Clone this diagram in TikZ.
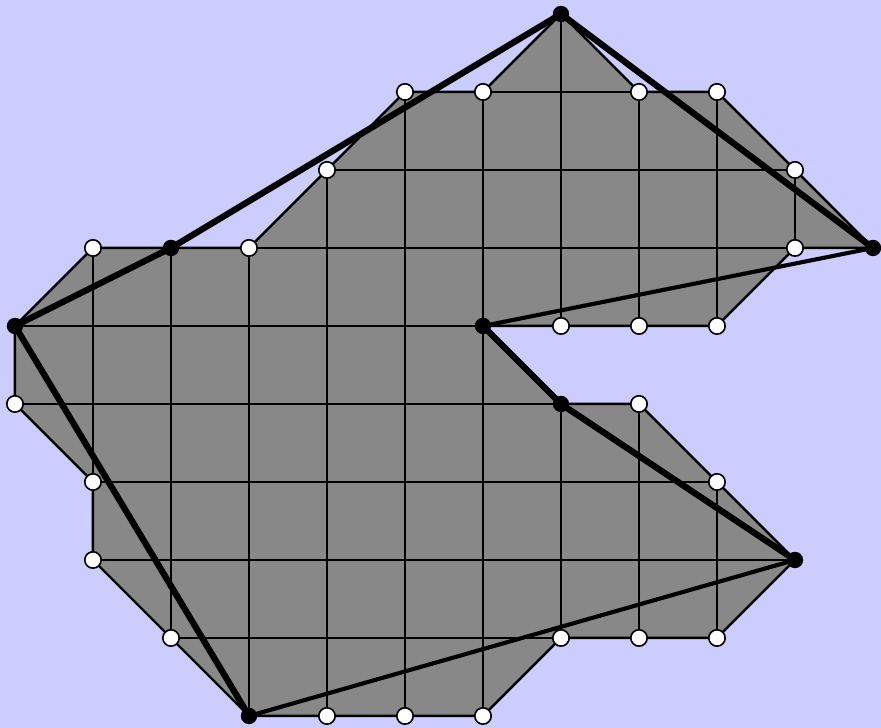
\documentclass[tikz,border=0pt]{standalone}
\usetikzlibrary{arrows}
\definecolor{bgblue}{RGB}{204,204,255}
\definecolor{cellgray}{RGB}{136,136,136}
\tikzset{
  gridline/.style={line width=0.8pt},
  rim/.style={line width=0.9pt},
  hull/.style={line width=2.3pt, line cap=round},
  thinhull/.style={line width=1.5pt},
  hollow/.style={fill=white, draw=black, line width=0.6pt}
}
\def\region{(7,0) -- (8,1) -- (9,1) -- (11,3) -- (10,3) -- (9,4) -- (6,4) -- (7,5) -- (8,5) -- (10,7) -- (9,8) -- (7,8) -- (6,9) -- (3,9) -- (1,7) -- (1,6) -- (0,5) -- (0,4) -- (1,3) -- (3,3) -- (5,1) -- (6,1) -- cycle}

\begin{document}
\begin{tikzpicture}[y=-1cm, radius=0.105]
    \fill[bgblue] (-0.192,-0.179) rectangle (11.103,9.154);
    \useasboundingbox (-0.192,-0.179) rectangle (11.103,9.154);
    % lattice polygon
    \fill[cellgray] \region;
    \begin{scope}
        \clip \region;
        \draw[gridline] (0,0) grid (11,9);
    \end{scope}
    \draw[rim] \region;
    % hull corners
    \coordinate (top) at (7,0);
    \coordinate (rgt) at (11,3);
    \coordinate (mid) at (6,4);
    \coordinate (notch) at (7,5);
    \coordinate (tip) at (10,7);
    \coordinate (bot) at (3,9);
    \coordinate (lft) at (0,4);
    \coordinate (shldr) at (2,3);
    \draw[hull] (lft) -- (shldr) -- (top) -- (rgt);
    \draw[thinhull] (rgt) -- (mid);
    \draw[hull] (mid) -- (notch) -- (tip);
    \draw[thinhull] (tip) -- (bot);
    \draw[hull] (bot) -- (lft);
    % boundary points
    \foreach \p in {(5,1),(6,1),(8,1),(9,1),(4,2),(10,2),(1,3),(3,3),(10,3),
                    (7,4),(8,4),(9,4),(0,5),(8,5),(1,6),(9,6),(1,7),(2,8),
                    (7,8),(8,8),(9,8),(4,9),(5,9),(6,9)}
        \filldraw[hollow] \p circle;
    \foreach \c in {top,rgt,mid,notch,tip,bot,lft,shldr}
        \fill (\c) circle;
\end{tikzpicture}
\end{document}
